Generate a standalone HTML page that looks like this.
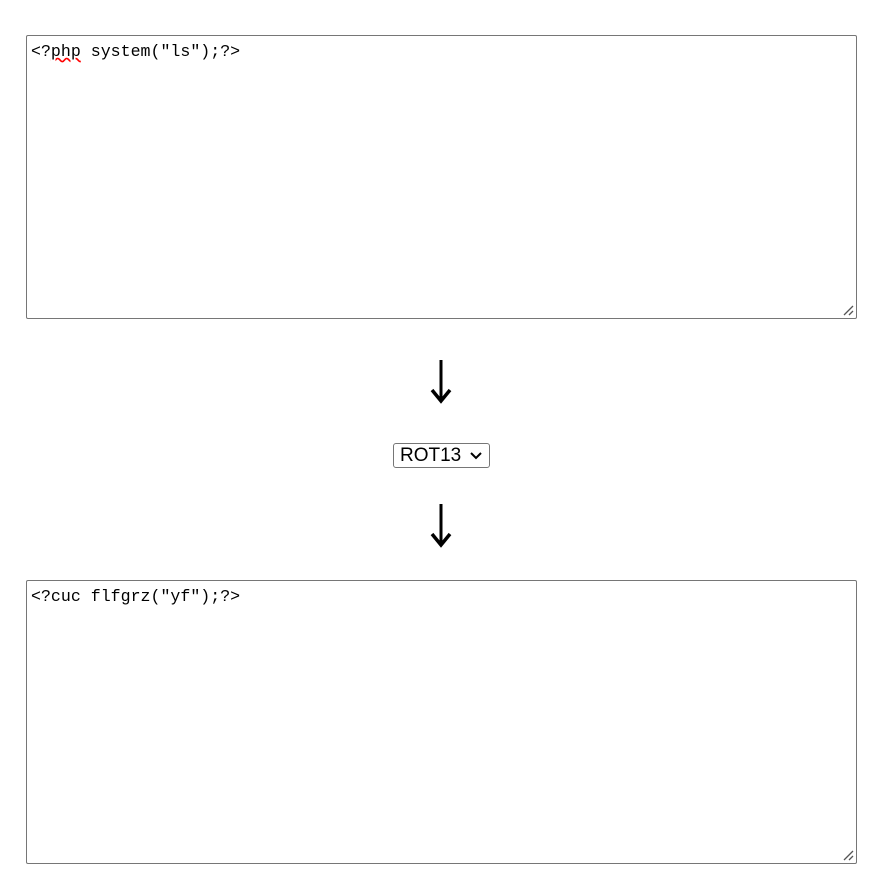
<!DOCTYPE html>
<html><head><style>
body{margin:0;width:878px;height:880px;background:#fff;position:relative;overflow:hidden}
.ta{position:absolute;left:26px;width:829px;height:282px;border:1px solid #767676;border-radius:2px;background:#fff}
.t{position:absolute;left:4px;top:6px;font:16.6px "Liberation Mono",monospace;color:#000;white-space:pre}
.g{position:absolute;right:2px;bottom:2px}
.sel{position:absolute;left:393px;top:443px;width:95px;height:23px;border:1px solid #767676;border-radius:3px;font:19px "Liberation Sans",sans-serif;box-sizing:content-box}
</style></head><body>
<div class="ta" style="top:35px"><div class="t">&lt;?<span style="text-decoration:underline wavy red">php</span> system("ls");?&gt;</div>
<svg class="g" width="12" height="12"><path d="M2 11L11 2M7 11L11 7" stroke="#555" stroke-width="1.3"/></svg></div>
<svg style="position:absolute;left:425px;top:355px" width="32" height="55"><path d="M16 5V45" stroke="#000" stroke-width="3"/><path d="M7 35L16 46L25 35" fill="none" stroke="#000" stroke-width="3.5"/></svg>
<div class="sel"><span style="position:absolute;left:6px;top:1px">ROT13</span>
<svg style="position:absolute;left:76px;top:7px" width="12" height="10"><path d="M1 2L6 7L11 2" fill="none" stroke="#000" stroke-width="2"/></svg></div>
<svg style="position:absolute;left:425px;top:499px" width="32" height="55"><path d="M16 5V45" stroke="#000" stroke-width="3"/><path d="M7 35L16 46L25 35" fill="none" stroke="#000" stroke-width="3.5"/></svg>
<div class="ta" style="top:580px"><div class="t">&lt;?cuc flfgrz("yf");?&gt;</div>
<svg class="g" width="12" height="12"><path d="M2 11L11 2M7 11L11 7" stroke="#555" stroke-width="1.3"/></svg></div>
</body></html>
